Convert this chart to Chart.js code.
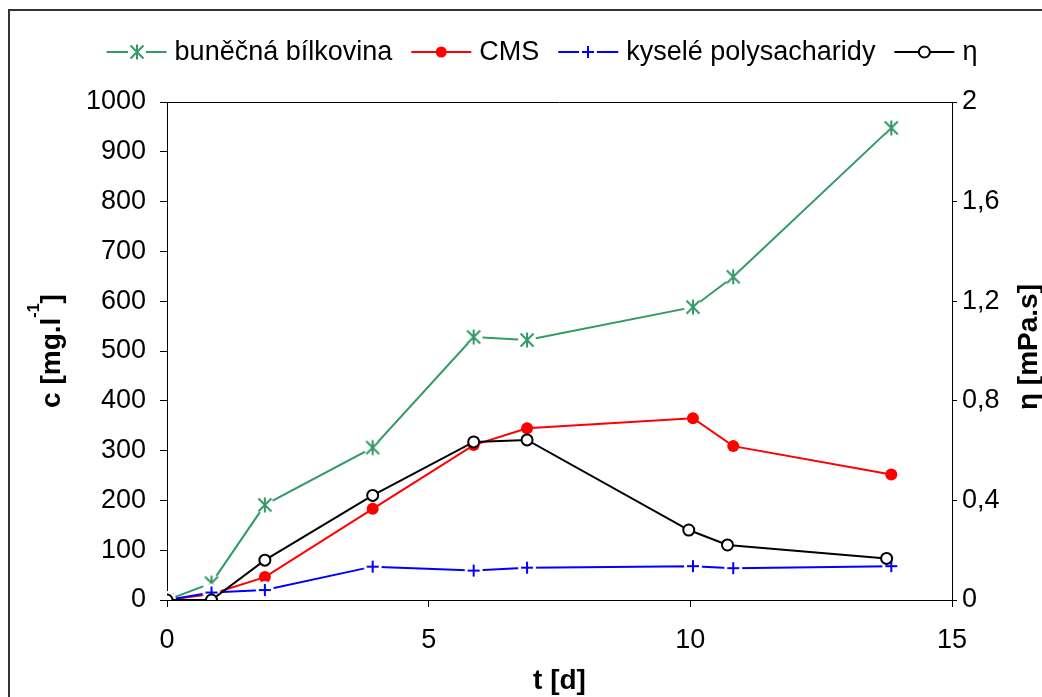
<!DOCTYPE html>
<html lang="cs">
<head>
<meta charset="utf-8">
<title>Buněčná bílkovina, CMS, kyselé polysacharidy a η</title>
<script src="https://cdn.jsdelivr.net/npm/chart.js@4.4.1/dist/chart.umd.min.js"></script>
<style>
  html, body { margin: 0; padding: 0; background: #fff; }
  #obal { position: relative; width: 1042px; height: 697px; }
</style>
</head>
<body>
<div id="obal"><canvas id="graf"></canvas></div>
<script>
// Hodnoty odečtené z původního grafu
const casDny = [0, 0.85, 1.87, 3.93, 5.86, 6.88, 10.05, 10.82, 13.84];
const casDnyEta = [0, 0.85, 1.87, 3.93, 5.86, 6.88, 9.97, 10.71, 13.75];
const bunecnaBilkovina = [0, 34, 191, 306, 528, 522, 588, 649, 948];
const cms = [0, 12, 46, 183, 311, 345, 365, 309, 252];
const kyselePolysacharidy = [0, 15, 20, 67, 59, 65, 68, 64, 68];
const eta = [0, 0, 0.16, 0.42, 0.635, 0.643, 0.281, 0.221, 0.167];

// Popisky os
const popiskyT = ['0', '5', '10', '15'];
const popiskyC = ['0', '100', '200', '300', '400', '500', '600', '700', '800', '900', '1000'];
const popiskyEta = ['0', '0,4', '0,8', '1,2', '1,6', '2'];

const PISMO = '"Liberation Sans", Arial, sans-serif';

// Složí body {x, y} z osy času a řady hodnot
function body(casy, hodnoty) {
    return hodnoty.map((v, i) => ({ x: casy[i], y: v }));
}

// Hvězdička (X se svislou čarou) s bílým okolím jako v Excelu
function znackaHvezdicka(barva) {
    const c = document.createElement('canvas');
    c.width = 22; c.height = 22;
    const ctx = c.getContext('2d');
    ctx.fillStyle = '#fff';
    ctx.beginPath(); ctx.arc(11, 11, 9, 0, Math.PI * 2); ctx.fill();
    ctx.strokeStyle = barva; ctx.lineWidth = 2;
    ctx.beginPath();
    ctx.moveTo(4.5, 4.5); ctx.lineTo(17.5, 17.5);
    ctx.moveTo(17.5, 4.5); ctx.lineTo(4.5, 17.5);
    ctx.moveTo(11, 3.5); ctx.lineTo(11, 18.5);
    ctx.stroke();
    return c;
}

// Křížek (+) s bílým okolím
function znackaPlus(barva) {
    const c = document.createElement('canvas');
    c.width = 22; c.height = 22;
    const ctx = c.getContext('2d');
    ctx.fillStyle = '#fff';
    ctx.beginPath(); ctx.arc(11, 11, 9, 0, Math.PI * 2); ctx.fill();
    ctx.strokeStyle = barva; ctx.lineWidth = 2;
    ctx.beginPath();
    ctx.moveTo(5, 11); ctx.lineTo(17, 11);
    ctx.moveTo(11, 5); ctx.lineTo(11, 17);
    ctx.stroke();
    return c;
}

// Rámeček, horní hrana grafu, legenda a popisy os
const popisyGrafu = {
    id: 'popisyGrafu',
    afterDraw(chart) {
        const ctx = chart.ctx;
        const oblast = chart.chartArea;
        ctx.save();

        // vnější rámeček
        ctx.strokeStyle = '#333';
        ctx.lineWidth = 2;
        ctx.beginPath();
        ctx.moveTo(9, 697); ctx.lineTo(9, 10); ctx.lineTo(1042, 10);
        ctx.stroke();

        // horní hrana oblasti grafu
        ctx.strokeStyle = '#000';
        ctx.lineWidth = 1;
        ctx.beginPath();
        ctx.moveTo(oblast.left, Math.round(oblast.top) + 0.5);
        ctx.lineTo(oblast.right, Math.round(oblast.top) + 0.5);
        ctx.stroke();

        vykresliLegendu(chart);
        vykresliPopisyOs(chart);
        ctx.restore();
    }
};

function vykresliLegendu(chart) {
    const ctx = chart.ctx;
    const y = 52;
    const delkaCary = 60, mezeraText = 8, mezeraPolozky = 19;
    ctx.save();
    ctx.font = '27px ' + PISMO;
    // pořadí v legendě = pořadí datových řad
    const polozky = chart.data.datasets.map(ds => ({
        ds,
        sirka: delkaCary + mezeraText + ctx.measureText(ds.label).width
    }));
    let celkem = mezeraPolozky * (polozky.length - 1);
    polozky.forEach(p => { celkem += p.sirka; });
    let x = 542 - celkem / 2;

    polozky.forEach(p => {
        const ds = p.ds;
        ctx.strokeStyle = ds.borderColor;
        ctx.lineWidth = 2;
        ctx.beginPath();
        ctx.moveTo(x, y); ctx.lineTo(x + delkaCary, y);
        ctx.stroke();

        const sx = x + delkaCary / 2;
        if (ds.pointStyle instanceof HTMLCanvasElement) {
            ctx.drawImage(ds.pointStyle, Math.round(sx - ds.pointStyle.width / 2), y - ds.pointStyle.height / 2);
        } else {
            ctx.beginPath();
            ctx.arc(sx, y, 5.5, 0, Math.PI * 2);
            ctx.fillStyle = ds.pointBackgroundColor;
            ctx.fill();
            if (ds.pointBorderWidth) {
                ctx.lineWidth = ds.pointBorderWidth;
                ctx.strokeStyle = ds.pointBorderColor;
                ctx.stroke();
            }
        }

        ctx.fillStyle = '#000';
        ctx.textBaseline = 'middle';
        ctx.textAlign = 'left';
        ctx.fillText(ds.label, x + delkaCary + mezeraText, y + 1);
        x += p.sirka + mezeraPolozky;
    });
    ctx.restore();
}

function vykresliPopisyOs(chart) {
    const ctx = chart.ctx;
    const oblast = chart.chartArea;
    const stredY = (oblast.top + oblast.bottom) / 2;
    ctx.save();
    ctx.fillStyle = '#000';
    ctx.textBaseline = 'alphabetic';

    // osa x
    ctx.font = 'bold 28px ' + PISMO;
    ctx.textAlign = 'center';
    ctx.fillText('t [d]', (oblast.left + oblast.right) / 2, 689);

    // levá osa: c [mg.l^-1]
    ctx.save();
    ctx.translate(60, stredY);
    ctx.rotate(-Math.PI / 2);
    ctx.textAlign = 'left';
    const hlavni = 'c [mg.l', horni = '-1', konec = ']';
    ctx.font = 'bold 28px ' + PISMO;
    const w1 = ctx.measureText(hlavni).width;
    const w3 = ctx.measureText(konec).width;
    ctx.font = 'bold 16px ' + PISMO;
    const w2 = ctx.measureText(horni).width;
    let x = -(w1 + w2 + w3) / 2;
    ctx.font = 'bold 28px ' + PISMO;
    ctx.fillText(hlavni, x, 0);
    x += w1;
    ctx.font = 'bold 16px ' + PISMO;
    ctx.fillText(horni, x, -21);
    x += w2;
    ctx.font = 'bold 28px ' + PISMO;
    ctx.fillText(konec, x, 0);
    ctx.restore();

    // pravá osa: η [mPa.s]
    ctx.save();
    ctx.translate(1037, stredY - 4);
    ctx.rotate(-Math.PI / 2);
    ctx.textAlign = 'center';
    ctx.font = 'bold 28px ' + PISMO;
    ctx.fillText('η [mPa.s]', 0, 0);
    ctx.restore();

    ctx.restore();
}

const spolecnaOsa = {
    border: { display: true, color: '#000', width: 1 },
    grid: { display: true, drawOnChartArea: false, drawTicks: true, tickLength: 7, color: '#000', lineWidth: 1 }
};

new Chart(document.getElementById('graf').getContext('2d'), {
    type: 'line',
    data: {
        datasets: [
            {
                label: 'buněčná bílkovina',
                data: body(casDny, bunecnaBilkovina),
                yAxisID: 'y',
                borderColor: '#339966',
                borderWidth: 2,
                pointStyle: znackaHvezdicka('#339966'),
                pointRadius: 7,
                order: 4
            },
            {
                label: 'CMS',
                data: body(casDny, cms),
                yAxisID: 'y',
                borderColor: '#ff0000',
                borderWidth: 2,
                pointStyle: 'circle',
                pointRadius: 6,
                pointBackgroundColor: '#ff0000',
                pointBorderColor: '#ff0000',
                pointBorderWidth: 0,
                order: 3
            },
            {
                label: 'kyselé polysacharidy',
                data: body(casDny, kyselePolysacharidy),
                yAxisID: 'y',
                borderColor: '#0000ff',
                borderWidth: 2,
                pointStyle: znackaPlus('#0000ff'),
                pointRadius: 6,
                order: 2
            },
            {
                label: 'η',
                data: body(casDnyEta, eta),
                yAxisID: 'y1',
                borderColor: '#000000',
                borderWidth: 2,
                pointStyle: 'circle',
                pointRadius: 5.5,
                pointBackgroundColor: '#ffffff',
                pointBorderColor: '#000000',
                pointBorderWidth: 2,
                order: 1
            }
        ]
    },
    options: {
        responsive: true,
        maintainAspectRatio: false,
        animation: false,
        events: [],
        layout: { padding: { top: 102, left: 0, right: 0, bottom: 0 } },
        plugins: {
            legend: { display: false },
            tooltip: { enabled: false }
        },
        elements: { line: { tension: 0 } },
        scales: {
            x: {
                ...spolecnaOsa,
                type: 'linear',
                min: 0,
                max: 15,
                afterFit: s => { s.height = 97; },
                ticks: {
                    stepSize: 5,
                    color: '#000',
                    padding: 17,
                    maxRotation: 0,
                    font: { family: PISMO, size: 27 },
                    callback: (v, i) => popiskyT[i]
                }
            },
            y: {
                ...spolecnaOsa,
                position: 'left',
                min: 0,
                max: 1000,
                afterFit: s => { s.width = 167; },
                ticks: {
                    stepSize: 100,
                    color: '#000',
                    padding: 14,
                    font: { family: PISMO, size: 27 },
                    callback: (v, i) => popiskyC[i]
                }
            },
            y1: {
                border: { display: true, color: '#000', width: 1 },
                grid: { display: true, drawOnChartArea: false, drawTicks: true, tickLength: 5, color: '#000', lineWidth: 1 },
                position: 'right',
                min: 0,
                max: 2,
                afterFit: s => { s.width = 90; },
                ticks: {
                    stepSize: 0.4,
                    color: '#000',
                    padding: 5,
                    font: { family: PISMO, size: 27 },
                    callback: (v, i) => popiskyEta[i]
                }
            }
        }
    },
    plugins: [popisyGrafu]
});
</script>
</body>
</html>
